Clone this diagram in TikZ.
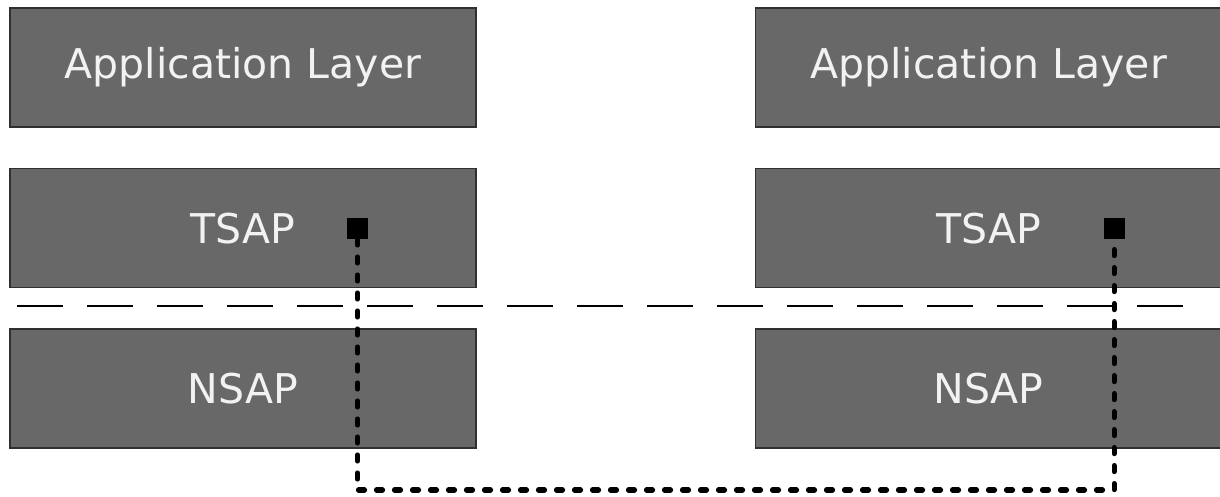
\documentclass[tikz,border=0pt]{standalone}
\usepackage{fontspec}
\setmainfont{DejaVu Sans}
\usepackage{tikz}
\usetikzlibrary{positioning}
\definecolor{layergray}{HTML}{686868}
\definecolor{layeredge}{HTML}{303030}
\definecolor{layertext}{HTML}{F2F2F2}
\tikzset{
  layer/.style = {
    rectangle, draw=layeredge, line width=0.8pt,
    fill=layergray, minimum width=233pt, minimum height=59.5pt,
    text=layertext, text centered, font=\fontsize{20.5}{24}\selectfont
  },
  port/.style = {
    rectangle, fill=black, inner sep=0pt, minimum size=10.5pt
  },
  linkline/.style = {line width=2.6pt, line cap=round, dash pattern=on 3pt off 6pt},
  splitline/.style = {line width=1pt, dash pattern=on 23pt off 12pt}
}

\begin{document}
\begin{tikzpicture}[x=0.5pt, y=-0.5pt, node distance=20pt]
  \useasboundingbox (0,0) rectangle (1220,497);
  % Left stack
  \node[layer] (appL) at (243,67.5) {Application Layer};
  \node[layer, below=of appL] (tsapL) {TSAP};
  \node[layer, below=of tsapL] (nsapL) {NSAP};
  % Right stack
  \node[layer, right=139pt of appL] (appR) {Application Layer};
  \node[layer, below=of appR] (tsapR) {TSAP};
  \node[layer, below=of tsapR] (nsapR) {NSAP};
  % Boundary between layers
  \coordinate (sepL) at (17,306);
  \coordinate (sepR) at (1195,306);
  \draw[splitline] (sepL) -- (sepR);
  % Access points and connection
  \node[port] (portL) at ([xshift=57.25pt]tsapL.center) {};
  \node[port] (portR) at ([xshift=62.75pt]tsapR.center) {};
  \coordinate (bottom) at (0,490);
  \draw[linkline] (portL.south) -- (portL |- bottom) -| (portR.south);
\end{tikzpicture}
\end{document}
